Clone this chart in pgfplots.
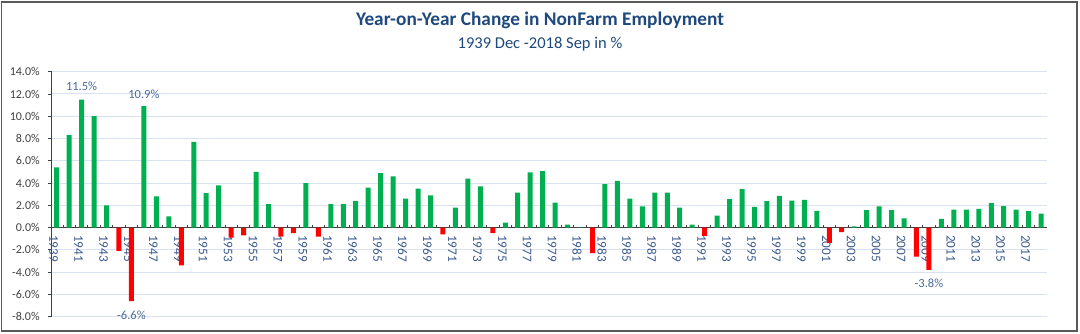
\documentclass[border=0pt]{standalone}
\usepackage{pgfplots}
\pgfplotsset{compat=1.18}
\usepackage{pgfplotstable}
\usepackage{fontspec}
\setmainfont{Carlito}
\definecolor{barg}{HTML}{00B050}
\definecolor{barr}{HTML}{FF0000}
\definecolor{titlec}{HTML}{1F497D}
\definecolor{xlab}{HTML}{3B5A8E}
\definecolor{dlab}{HTML}{4A6A9C}
\definecolor{gridc}{HTML}{D9E2F1}
\definecolor{axc}{HTML}{404040}
\definecolor{framec}{HTML}{595959}

\pgfplotstableread{
x pos neg
0 5.4 nan
1 8.3 nan
2 11.5 nan
3 10.0 nan
4 2.0 nan
5 nan -2.1
6 nan -6.6
7 10.9 nan
8 2.8 nan
9 1.0 nan
10 nan -3.4
11 7.7 nan
12 3.1 nan
13 3.8 nan
14 nan -0.9
15 nan -0.7
16 5.0 nan
17 2.1 nan
18 nan -0.8
19 nan -0.5
20 4.0 nan
21 nan -0.8
22 2.1 nan
23 2.1 nan
24 2.4 nan
25 3.6 nan
26 4.9 nan
27 4.6 nan
28 2.6 nan
29 3.5 nan
30 2.9 nan
31 nan -0.6
32 1.8 nan
33 4.4 nan
34 3.7 nan
35 nan -0.5
36 0.45 nan
37 3.15 nan
38 4.95 nan
39 5.07 nan
40 2.25 nan
41 0.27 nan
42 0.02 nan
43 nan -2.3
44 3.9 nan
45 4.2 nan
46 2.6 nan
47 1.9 nan
48 3.15 nan
49 3.15 nan
50 1.8 nan
51 0.27 nan
52 nan -0.75
53 1.08 nan
54 2.55 nan
55 3.45 nan
56 1.86 nan
57 2.37 nan
58 2.85 nan
59 2.43 nan
60 2.49 nan
61 1.5 nan
62 nan -1.38
63 nan -0.4
64 0.1 nan
65 1.56 nan
66 1.9 nan
67 1.56 nan
68 0.84 nan
69 nan -2.6
70 nan -3.8
71 0.78 nan
72 1.62 nan
73 1.62 nan
74 1.68 nan
75 2.19 nan
76 1.92 nan
77 1.62 nan
78 1.47 nan
79 1.26 nan
}\datatable

\begin{document}
\begin{tikzpicture}
\useasboundingbox (0,0) rectangle (1080pt,333pt);
\draw[framec, line width=1.5pt] (1.5pt,2pt) rectangle (1077pt,331pt);
\node[font=\fontsize{19.3}{22}\selectfont\bfseries, text=titlec] at (540pt,313pt) {Year-on-Year Change in NonFarm Employment};
\node[font=\fontsize{16.5}{19}\selectfont, text=titlec] at (540pt,289pt) {1939 Dec -2018 Sep in \%};
\begin{axis}[
  at={(51.7pt,16.3pt)}, anchor=south west,
  scale only axis, width=995pt, height=245pt,
  xmin=-0.4, xmax=79.45, ymin=-8, ymax=14,
  axis x line*=middle, axis y line*=left,
  x axis line style={-, axc, line width=0.9pt},
  y axis line style={-, axc, line width=0.9pt},
  ytick={-8,-6,...,14},
  ymajorgrids, grid style={gridc, line width=1pt},
  tick align=outside,
  major tick length=4pt,
  ytick style={axc, line width=0.8pt},
  yticklabel={\pgfmathprintnumber[fixed,fixed zerofill,precision=1,assume math mode=true]{\tick}\%},
  yticklabel style={font=\fontsize{12}{14}\selectfont, text=axc, xshift=-4.5pt},
  xtick={0,2,...,78},
  xticklabels={1939,1941,1943,1945,1947,1949,1951,1953,1955,1957,1959,1961,1963,1965,1967,1969,1971,1973,1975,1977,1979,1981,1983,1985,1987,1989,1991,1993,1995,1997,1999,2001,2003,2005,2007,2009,2011,2013,2015,2017},
  major x tick style={draw=none},
  minor xtick={-0.5,0.5,...,79.5},
  minor x tick style={axc, line width=0.8pt, yshift=3pt},
  minor tick length=3pt,
  xticklabel style={rotate=-90, anchor=west, font=\fontsize{13.2}{15}\selectfont, text=xlab, xshift=0pt, yshift=-3pt},
  ybar, bar width=5pt, bar shift=0pt,
  unbounded coords=discard,
  clip=false,
  axis on top=false,
]
\addplot[fill=barg, draw=none] table[x=x, y=pos] {\datatable};
\addplot[fill=barr, draw=none] table[x=x, y=neg] {\datatable};
\node[text=dlab, font=\fontsize{12.5}{14}\selectfont] at (axis cs:2,12.7) {11.5\%};
\node[text=dlab, font=\fontsize{12.5}{14}\selectfont] at (axis cs:7,12.0) {10.9\%};
\node[text=dlab, font=\fontsize{12.5}{14}\selectfont] at (axis cs:6,-7.9) {-6.6\%};
\node[text=dlab, font=\fontsize{12.5}{14}\selectfont] at (axis cs:70,-5.0) {-3.8\%};
\end{axis}
\end{tikzpicture}
\end{document}
